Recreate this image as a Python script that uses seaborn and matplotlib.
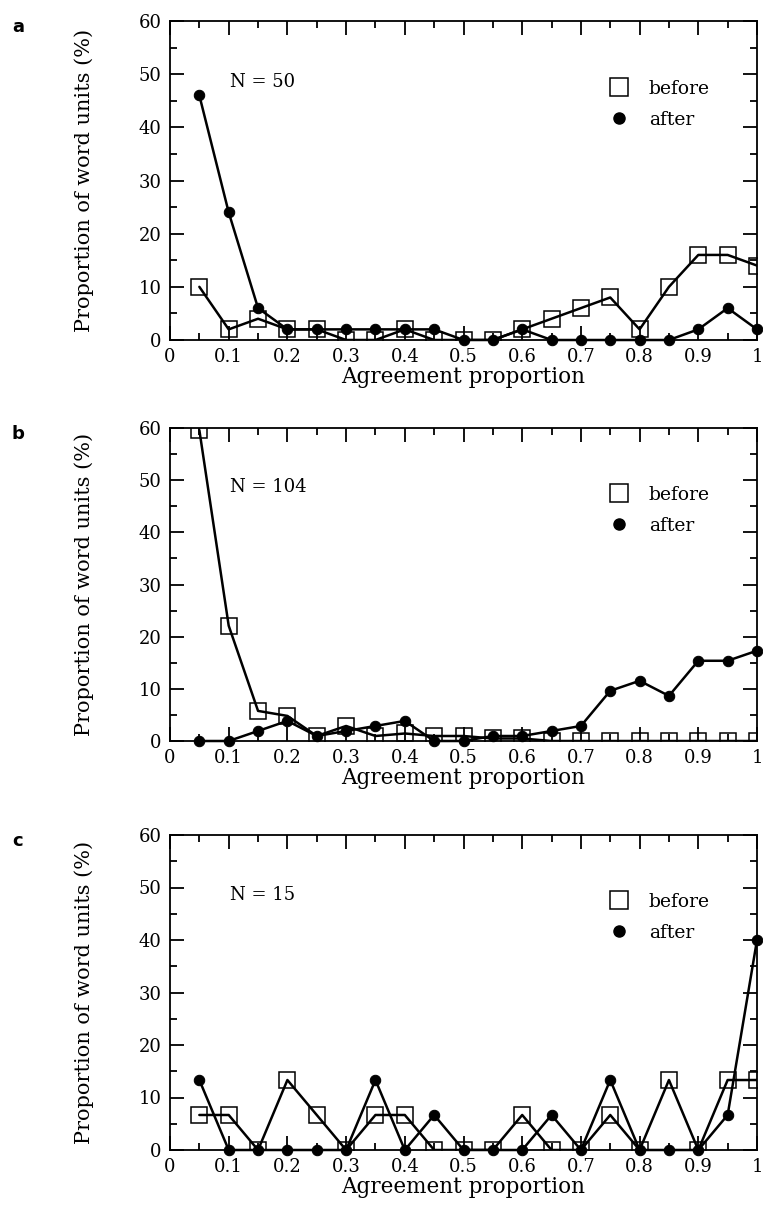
import matplotlib as mpl
mpl.use('Agg')
import matplotlib.pyplot as plt
import numpy as np
import pandas as pd
import seaborn as sns
from matplotlib.lines import Line2D
from matplotlib.ticker import MultipleLocator

# agreement proportion bins
agreement = [0.05, 0.10, 0.15, 0.20, 0.25, 0.30, 0.35, 0.40, 0.45, 0.50,
             0.55, 0.60, 0.65, 0.70, 0.75, 0.80, 0.85, 0.90, 0.95, 1.00]

# panel a, N = 50
before_a = [10, 2, 4, 2, 2, 0, 0, 2, 0, 0, 0, 2, 4, 6, 8, 2, 10, 16, 16, 14]
after_a = [46, 24, 6, 2, 2, 2, 2, 2, 2, 0, 0, 2, 0, 0, 0, 0, 0, 2, 6, 2]

# panel b, N = 104
before_b = [59.6, 22.1, 5.77, 4.81, 0.96, 2.88, 0.96, 1.44, 0.96, 0.96,
            0.48, 0.48, 0, 0, 0, 0, 0, 0, 0, 0]
after_b = [0, 0, 1.92, 3.85, 0.96, 1.92, 2.88, 3.85, 0, 0,
           0.96, 0.96, 1.92, 2.88, 9.62, 11.54, 8.65, 15.38, 15.38, 17.31]

# panel c, N = 15
before_c = [6.67, 6.67, 0, 13.33, 6.67, 0, 6.67, 6.67, 0, 0,
            0, 6.67, 0, 0, 6.67, 0, 13.33, 0, 13.33, 13.33]
after_c = [13.33, 0, 0, 0, 0, 0, 13.33, 0, 6.67, 0,
           0, 0, 6.67, 0, 13.33, 0, 0, 0, 6.67, 40]

panels = [("a", "N = 50", before_a, after_a),
          ("b", "N = 104", before_b, after_b),
          ("c", "N = 15", before_c, after_c)]

sns.set_style("ticks")
plt.rcParams['font.family'] = ['DejaVu Serif']
plt.rcParams.update({'text.color': 'black', 'axes.labelcolor': 'black',
                     'xtick.color': 'black', 'ytick.color': 'black'})

W, H = 763, 1225
fig = plt.figure(figsize=(W / 100, H / 100), dpi=100)

# axes boxes in pixels: (left, top, right, bottom)
boxes = [(170, 21, 757, 340), (170, 428, 757, 741), (170, 835, 757, 1150)]

for (letter, ntext, before, after), (l, t, r, b) in zip(panels, boxes):
    ax = fig.add_axes([l / W, 1 - b / H, (r - l) / W, (b - t) / H])
    df = pd.DataFrame({"agreement": agreement, "before": before, "after": after})

    sns.lineplot(data=df, x="agreement", y="before", ax=ax, color="black",
                 lw=1.8, marker="s", markersize=11, markerfacecolor="none",
                 markeredgecolor="black", markeredgewidth=1.1)
    sns.lineplot(data=df, x="agreement", y="after", ax=ax, color="black",
                 lw=1.8, marker="o", markersize=7.5, markerfacecolor="black",
                 markeredgecolor="black", clip_on=False)

    ax.set_xlim(0, 1)
    ax.set_ylim(0, 60)
    ax.xaxis.set_major_locator(MultipleLocator(0.1))
    ax.xaxis.set_minor_locator(MultipleLocator(0.05))
    ax.yaxis.set_major_locator(MultipleLocator(10))
    ax.yaxis.set_minor_locator(MultipleLocator(5))
    ax.xaxis.set_major_formatter(lambda v, p: "%g" % round(v, 2))

    for spine in ax.spines.values():
        spine.set_visible(True)
        spine.set_linewidth(1.3)
        spine.set_color("black")
    ax.tick_params(which="both", direction="in", top=True, right=True,
                   width=1.3, color="black", labelsize=13, pad=6)
    ax.tick_params(which="major", length=10)
    ax.tick_params(which="minor", length=5)

    ax.set_xlabel("Agreement proportion", fontsize=15.5, labelpad=0)
    ax.set_ylabel("Proportion of word units (%)", fontsize=15, labelpad=32)

    ax.text(0.102, 0.81, ntext, transform=ax.transAxes, fontsize=13,
            va="center", ha="left")

    handles = [Line2D([], [], ls="none", marker="s", markersize=13,
                      markerfacecolor="none", markeredgecolor="black",
                      markeredgewidth=1.1),
               Line2D([], [], ls="none", marker="o", markersize=8,
                      markerfacecolor="black", markeredgecolor="black")]
    ax.legend(handles, ["before", "after"], frameon=False, fontsize=13.5,
              loc="upper left", bbox_to_anchor=(0.72, 0.84),
              handletextpad=0.6, labelspacing=0.7, borderaxespad=0)

    fig.text(12 / W, 1 - (t - 3) / H, letter, fontsize=13, fontweight="bold",
             family="DejaVu Sans", ha="left", va="top")

fig.savefig("out.png", dpi=100)
